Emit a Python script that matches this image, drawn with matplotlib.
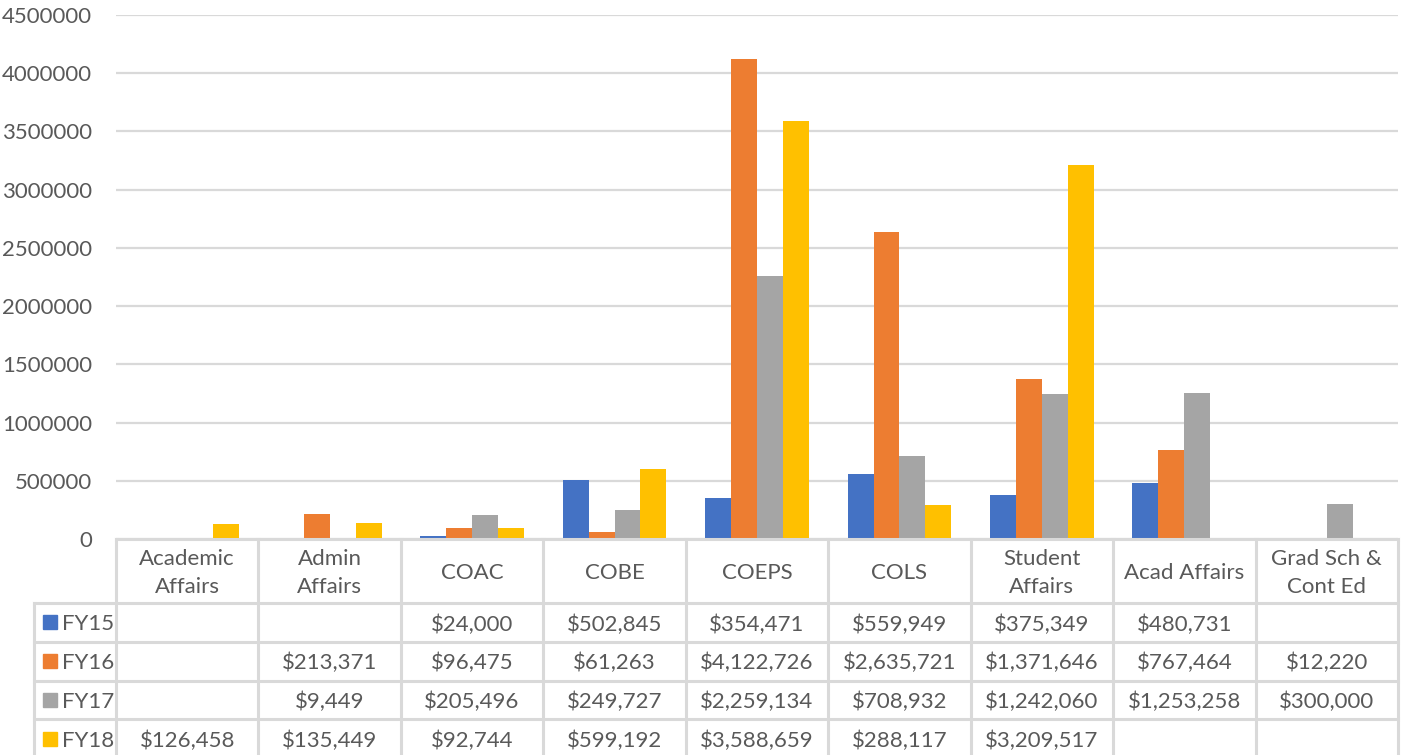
import numpy as np
import matplotlib.pyplot as plt

plt.rcParams['font.family'] = ['Lato', 'DejaVu Sans']

categories = ['Academic\nAffairs', 'Admin\nAffairs', 'COAC', 'COBE', 'COEPS', 'COLS',
              'Student\nAffairs', 'Acad Affairs', 'Grad Sch &\nCont Ed']
series_names = ['FY15', 'FY16', 'FY17', 'FY18']
fy15 = [np.nan, np.nan, 24000, 502845, 354471, 559949, 375349, 480731, np.nan]
fy16 = [np.nan, 213371, 96475, 61263, 4122726, 2635721, 1371646, 767464, 12220]
fy17 = [np.nan, 9449, 205496, 249727, 2259134, 708932, 1242060, 1253258, 300000]
fy18 = [126458, 135449, 92744, 599192, 3588659, 288117, 3209517, np.nan, np.nan]
yticks = [0, 500000, 1000000, 1500000, 2000000, 2500000, 3000000, 3500000, 4000000, 4500000]

colors = ['#4472C4', '#ED7D31', '#A5A5A5', '#FFC000']
text_col = '#595959'
line_col = '#D9D9D9'
fs = 16

W, H = 1409, 755
fig = plt.figure(figsize=(W / 100, H / 100), dpi=100)

# pixel layout
left, right = 116, 1398
top, zero = 15, 539
ax = fig.add_axes([left / W, (H - zero) / H, (right - left) / W, (zero - top) / H])

series = [fy15, fy16, fy17, fy18]
n = len(categories)
x = np.arange(n)
bw = 0.182
for i, vals in enumerate(series):
    ax.bar(x + (i - 1.5) * bw, vals, bw, color=colors[i], zorder=3)

ax.set_xlim(-0.5, n - 0.5)
ax.set_ylim(0, 4500000)
ax.set_yticks(yticks)
ax.set_yticklabels([str(v) for v in yticks], fontsize=fs, color=text_col)
ax.set_xticks([])
ax.tick_params(axis='y', length=0, pad=17)
for s in ax.spines.values():
    s.set_visible(False)
ax.grid(axis='y', color=line_col, linewidth=1.6, zorder=0)

# data table below the plot
tax = fig.add_axes([0, 0, 1, 1])
tax.set_xlim(0, W)
tax.set_ylim(H, 0)
tax.axis('off')

colw = (right - left) / n
col_edges = [left + k * colw for k in range(n + 1)]
hdr_top, hdr_bot = zero, 603
row_h = 38.8
row_edges = [hdr_bot + k * row_h for k in range(len(series) + 1)]
leg_left = 34
lw = 2.2

# grid of the table
for xe in col_edges:
    tax.plot([xe, xe], [hdr_top, row_edges[-1] + 5], color=line_col, lw=lw, zorder=1)
tax.plot([leg_left, leg_left], [hdr_bot, row_edges[-1] + 5], color=line_col, lw=lw)
tax.plot([col_edges[0], col_edges[-1]], [hdr_top, hdr_top], color=line_col, lw=lw)
for ye in row_edges[:-1]:
    tax.plot([leg_left, col_edges[-1]], [ye, ye], color=line_col, lw=lw)

for j, cat in enumerate(categories):
    tax.text((col_edges[j] + col_edges[j + 1]) / 2, (hdr_top + hdr_bot) / 2 + 2, cat,
             ha='center', va='center', fontsize=fs, color=text_col, linespacing=1.5)

for i, vals in enumerate(series):
    yc = (row_edges[i] + row_edges[i + 1]) / 2
    tax.add_patch(plt.Rectangle((43, yc - 7), 14, 14, color=colors[i]))
    tax.text(62, yc + 2, series_names[i], ha='left', va='center', fontsize=fs, color=text_col)
    for j, v in enumerate(vals):
        if not np.isnan(v):
            tax.text((col_edges[j] + col_edges[j + 1]) / 2, yc + 2, '${:,.0f}'.format(v),
                     ha='center', va='center', fontsize=fs, color=text_col)

fig.savefig('out.png', dpi=100)
